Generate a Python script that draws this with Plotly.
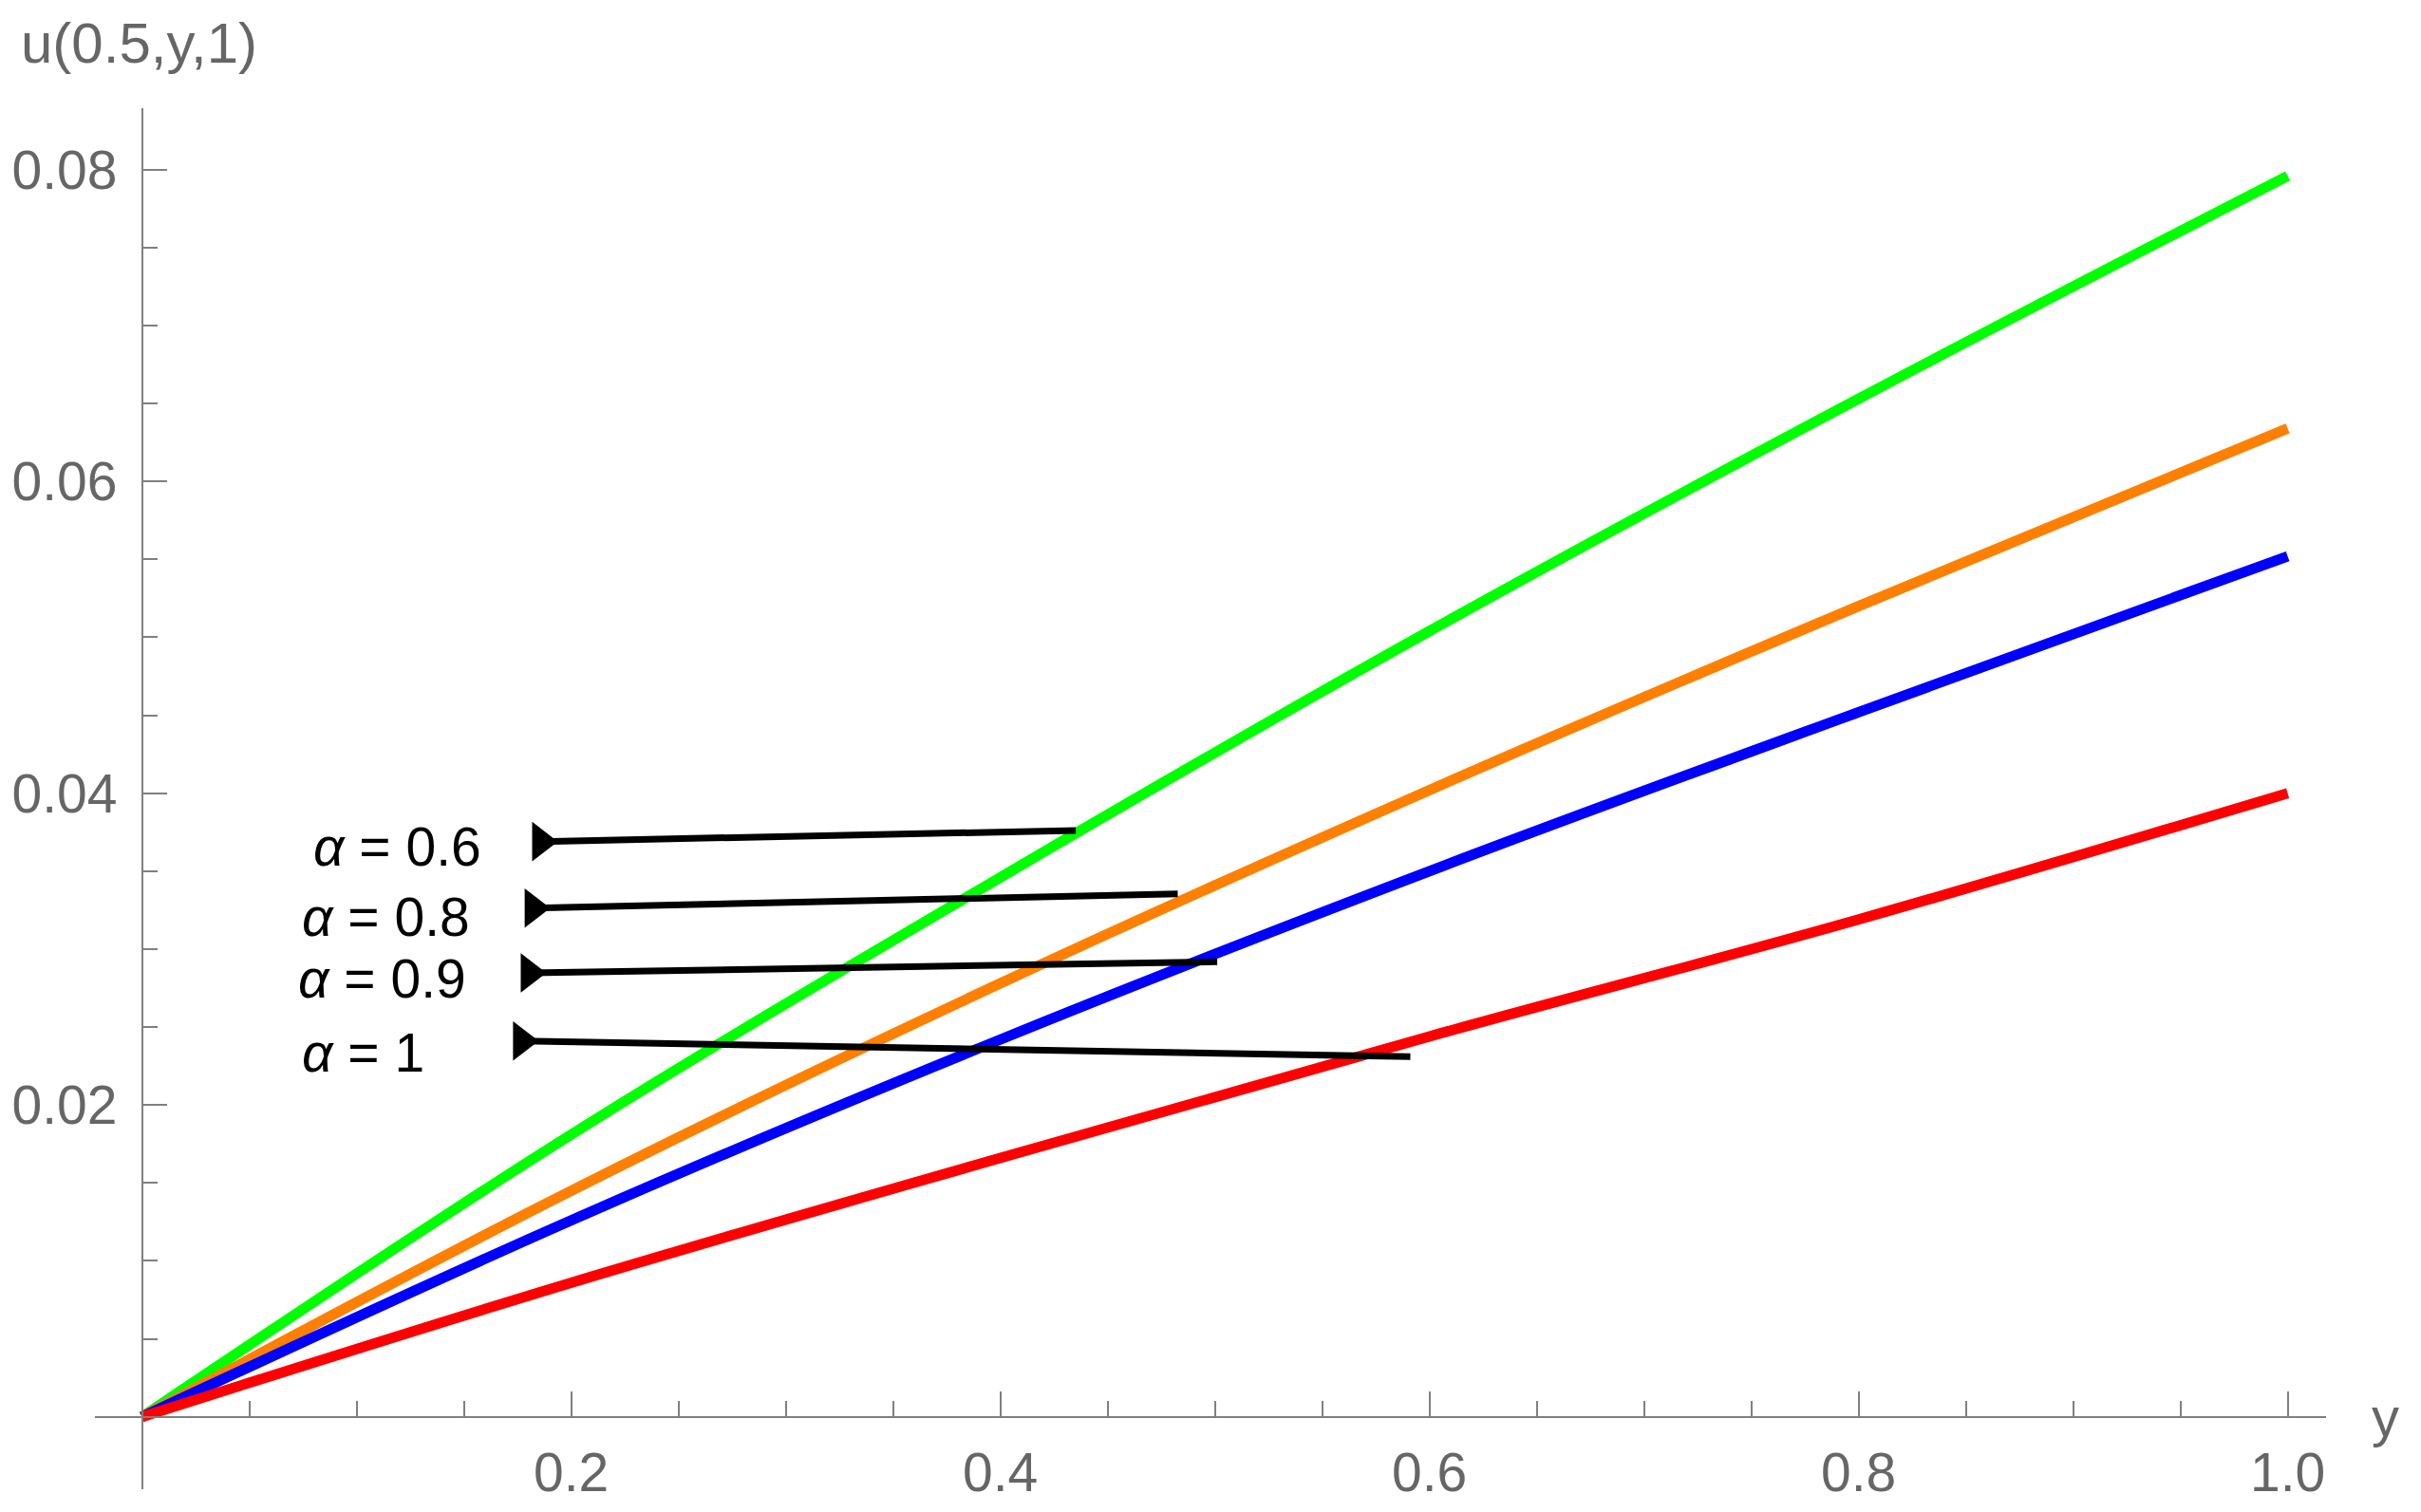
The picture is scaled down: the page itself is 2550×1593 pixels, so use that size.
import plotly.graph_objects as go

# y positions sampled along the curves
y_pts = [0.0, 0.2, 0.4, 0.6, 0.8, 1.0]

# u(0.5, y, 1) for each alpha
u_a06 = [0.0, 0.0181, 0.0346, 0.0504, 0.0653, 0.0796]
u_a08 = [0.0, 0.0145, 0.0278, 0.0402, 0.0520, 0.0634]
u_a09 = [0.0, 0.0126, 0.0242, 0.0350, 0.0452, 0.0552]
u_a10 = [0.0, 0.0086, 0.0166, 0.0244, 0.0319, 0.0400]

series_names = ["α = 0.6", "α = 0.8", "α = 0.9", "α = 1"]
series_colors = ["#00ff00", "#ff8000", "#0000ff", "#ff0000"]

# pointer lines from labels to curves
ptr_x0 = [0.1858, 0.1823, 0.1805, 0.1769]
ptr_y0 = [0.03690, 0.03263, 0.02847, 0.02411]
ptr_x1 = [0.4352, 0.4827, 0.5011, 0.5911]
ptr_y1 = [0.03761, 0.03355, 0.02919, 0.02310]

# label positions (left edge, vertical centre)
lab_x = [0.0789, 0.0736, 0.0719, 0.0736]
lab_y = [0.03657, 0.03207, 0.02811, 0.02336]
lab_text = ["<i>α</i> = 0.6", "<i>α</i> = 0.8", "<i>α</i> = 0.9", "<i>α</i> = 1"]

x_ticks = [0.2, 0.4, 0.6, 0.8, 1.0]
x_tick_text = ["0.2", "0.4", "0.6", "0.8", "1.0"]
y_ticks = [0.02, 0.04, 0.06, 0.08]
y_tick_text = ["0.02", "0.04", "0.06", "0.08"]

x_range = [-0.02195, 1.01788]
y_range = [-0.004645, 0.08394]

FONT = "Liberation Sans, Arial, sans-serif"
GRAY = "#666666"
AXIS = "#808080"

fig = go.Figure()

for name, vals, col in zip(series_names, [u_a06, u_a08, u_a09, u_a10], series_colors):
    fig.add_trace(go.Scatter(x=y_pts, y=vals, mode="lines", name=name,
                             line=dict(color=col, width=11, shape="spline")))

for i in range(len(ptr_x0)):
    fig.add_trace(go.Scatter(x=[ptr_x0[i], ptr_x1[i]], y=[ptr_y0[i], ptr_y1[i]],
                             mode="lines", line=dict(color="black", width=7)))

fig.add_trace(go.Scatter(x=ptr_x0, y=ptr_y0, mode="markers",
                         marker=dict(symbol="triangle-right", size=36, color="black",
                                     line=dict(width=0))))

for tx, ty, tt in zip(lab_x, lab_y, lab_text):
    fig.add_annotation(x=tx, y=ty, xref="x", yref="y", text=tt, showarrow=False,
                       xanchor="left", yanchor="middle",
                       font=dict(family=FONT, size=57, color="black"))

# axis labels
fig.add_annotation(x=-0.034, y=1.047, xref="paper", yref="paper", text="u(0.5,y,1)",
                   showarrow=False, xanchor="left", yanchor="middle",
                   font=dict(family=FONT, size=60, color=GRAY))
fig.add_annotation(x=1.0268, y=0, xref="paper", yref="y", text="y",
                   showarrow=False, xanchor="center", yanchor="middle",
                   font=dict(family=FONT, size=58, color=GRAY))

x_pos = (0 - y_range[0]) / (y_range[1] - y_range[0])
y_pos = (0 - x_range[0]) / (x_range[1] - x_range[0])

fig.update_layout(
    width=2550, height=1593,
    margin=dict(l=92, r=108, t=106, b=32, autoexpand=False),
    plot_bgcolor="white", paper_bgcolor="white",
    showlegend=False,
    xaxis=dict(range=x_range, anchor="free", position=x_pos, automargin=False,
               showgrid=False, zeroline=False, showline=True,
               linecolor=AXIS, linewidth=1.5,
               ticks="inside", ticklen=26, tickwidth=1.5, tickcolor=AXIS,
               tickvals=x_ticks, ticktext=x_tick_text, ticklabelstandoff=9,
               tickfont=dict(family=FONT, size=57, color=GRAY),
               minor=dict(ticks="inside", ticklen=16, tickwidth=1.5, tickcolor=AXIS,
                          dtick=0.05, tick0=0, showgrid=False)),
    yaxis=dict(range=y_range, anchor="free", position=y_pos, automargin=False,
               showgrid=False, zeroline=False, showline=True,
               linecolor=AXIS, linewidth=1.5,
               ticks="inside", ticklen=26, tickwidth=1.5, tickcolor=AXIS,
               tickvals=y_ticks, ticktext=y_tick_text, ticklabelstandoff=14,
               tickfont=dict(family=FONT, size=57, color=GRAY),
               minor=dict(ticks="inside", ticklen=16, tickwidth=1.5, tickcolor=AXIS,
                          dtick=0.005, tick0=0, showgrid=False)),
)

fig.write_html("out.html")
